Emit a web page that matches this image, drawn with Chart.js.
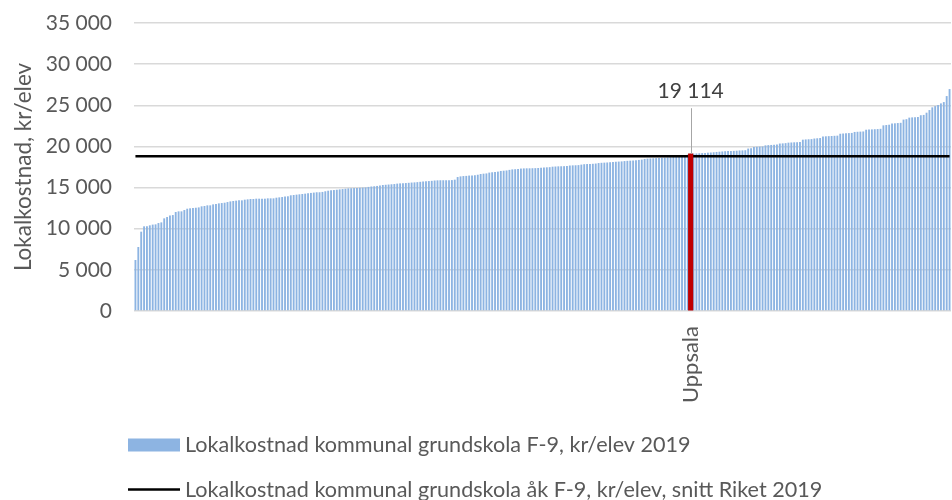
<!DOCTYPE html>
<html><head><meta charset="utf-8">
<script src="https://cdn.jsdelivr.net/npm/chart.js@4.4.1/dist/chart.umd.min.js"></script>
<style>html,body{margin:0;padding:0;background:#fff}#wrap{width:952px;height:500px;position:relative}</style>
</head><body><div id="wrap"><canvas id="c" width="952" height="500"></canvas></div>
<script>
// Lokalkostnad per elev, kommuner sorterade stigande (kr/elev 2019)
const kostnad = [
  6200, 7780, 9640, 10290, 10290, 10410, 10500, 10530, 10690, 10770,
  11260, 11420, 11620, 11660, 12030, 12110, 12110, 12270, 12430, 12480,
  12510, 12550, 12590, 12720, 12760, 12840, 12840, 12960, 13000, 13080,
  13120, 13160, 13240, 13320, 13370, 13410, 13450, 13450, 13530, 13570,
  13610, 13610, 13650, 13650, 13650, 13650, 13690, 13690, 13690, 13770,
  13810, 13850, 13900, 13940, 14060, 14100, 14140, 14180, 14220, 14260,
  14300, 14350, 14390, 14430, 14430, 14470, 14550, 14620,
  14660, 14700, 14740, 14780, 14820, 14860, 14900, 14920, 14940, 14960,
  14980, 15000, 15020, 15080, 15130, 15160, 15200, 15260, 15310, 15340,
  15370, 15400, 15430, 15480, 15510, 15530, 15550, 15580, 15610, 15630,
  15660, 15700, 15740, 15770, 15790, 15820, 15860, 15880, 15890, 15890,
  15890, 15900, 15910, 15960, 16280, 16360, 16400, 16420, 16460, 16480,
  16500, 16560, 16650, 16690, 16720, 16820, 16860, 16880, 16940, 17020,
  17050, 17080, 17150, 17210, 17230, 17260, 17310, 17330, 17340,
  17340, 17350, 17360, 17380, 17420, 17450, 17460, 17480, 17540, 17560,
  17580, 17590, 17600, 17620, 17680, 17700, 17710, 17730, 17790, 17840,
  17860, 17870, 17890, 17920, 17980, 18010, 18030, 18050, 18080, 18120,
  18140, 18160, 18180, 18220, 18250, 18270, 18290, 18310, 18360, 18400,
  18480, 18520, 18540, 18560, 18580, 18600, 18620, 18640, 18660, 18690,
  18720, 18760, 18880, 18920, 18960, 19000, 19114, 19130, 19150, 19170,
  19190, 19210, 19240, 19260, 19290, 19330, 19360, 19390, 19420,
  19430, 19440, 19460, 19480, 19510, 19520, 19540, 19740, 19780, 19940,
  19960, 19980, 20000, 20130, 20160, 20180, 20200, 20220, 20350, 20370,
  20400, 20460, 20480, 20500, 20510, 20530, 20820, 20850, 20870, 20890,
  20960, 20990, 21020, 21200, 21230, 21250, 21270, 21290, 21310, 21540,
  21570, 21600, 21620, 21640, 21760, 21780, 21800, 21820, 22030, 22050,
  22070, 22090, 22110, 22140, 22560, 22600, 22640, 22780, 22810, 22840,
  22870, 23260, 23310, 23500, 23530, 23550, 23580, 23790, 23830, 24100,
  24420, 24750, 24900, 25030, 25230, 25390, 26120, 26970
];
const uppsalaIndex = 193;               // Uppsala = 19 114
const rikssnitt = 18800;                // snitt Riket
const kategorier = kostnad.map((_, i) => i === uppsalaIndex ? 'Uppsala' : '');
const snittSerie = kostnad.map(() => rikssnitt);
const uppsalaSerie = kostnad.map((v, i) => i === uppsalaIndex ? v : null);
const yMin = 0, yMax = 35000, yStep = 5000;
const serieNamn = 'Lokalkostnad kommunal grundskola F-9, kr/elev 2019';
const snittNamn = 'Lokalkostnad kommunal grundskola åk F-9, kr/elev, snitt Riket 2019';
const yTitel = 'Lokalkostnad, kr/elev';

const BLUE = '#8db4e2', RED = '#c00000', TXT = '#595959', FONT = 'Lato';
const fmt = n => String(n).replace(/\B(?=(\d{3})+(?!\d))/g, ' ');

const uppsalaLabel = {
  id: 'uppsalaLabel',
  afterDatasetsDraw(chart) {
    const bar = chart.getDatasetMeta(2).data[uppsalaIndex];
    if (!bar) return;
    const {ctx} = chart;
    const x = bar.x, yTop = bar.y;
    ctx.save();
    ctx.strokeStyle = '#a6a6a6'; ctx.lineWidth = 1;
    ctx.beginPath();
    ctx.moveTo(Math.round(x) + 0.5, yTop - 45.5);
    ctx.lineTo(Math.round(x) + 0.5, yTop);
    ctx.stroke();
    ctx.font = '21px ' + FONT; ctx.fillStyle = '#404040';
    ctx.textAlign = 'center'; ctx.textBaseline = 'alphabetic';
    ctx.fillText(fmt(chart.data.datasets[2].data[uppsalaIndex]), x, yTop - 55.5);
    ctx.restore();
  }
};

const customLegend = {
  id: 'customLegend',
  afterDraw(chart) {
    const {ctx} = chart;
    const ds = chart.data.datasets;
    ctx.save();
    ctx.font = '21.6px ' + FONT;
    ctx.textAlign = 'left'; ctx.textBaseline = 'alphabetic';
    ctx.fillStyle = ds[0].backgroundColor;
    ctx.fillRect(128, 438.5, 52, 13);
    ctx.fillStyle = TXT;
    ctx.fillText(ds[0].label, 185, 451.5);
    ctx.strokeStyle = ds[1].borderColor; ctx.lineWidth = 2.5;
    ctx.beginPath(); ctx.moveTo(128, 489.5); ctx.lineTo(180, 489.5); ctx.stroke();
    ctx.fillText(ds[1].label, 185, 497);
    ctx.restore();
  }
};

new Chart(document.getElementById('c'), {
  type: 'bar',
  data: {
    labels: kategorier,
    datasets: [
      { label: serieNamn, data: kostnad, backgroundColor: BLUE, borderWidth: 0,
        barPercentage: 0.65, categoryPercentage: 1, order: 3 },
      { type: 'line', label: snittNamn, data: snittSerie, borderColor: '#000000',
        borderWidth: 2.5, pointRadius: 0, fill: false, order: 2 },
      { label: 'Uppsala', data: uppsalaSerie, backgroundColor: RED, borderWidth: 0,
        grouped: false, barThickness: 4.5, order: 1 }
    ]
  },
  options: {
    responsive: false, animation: false,
    layout: { padding: { left: 0, right: 1, top: 23, bottom: 89 } },
    plugins: { legend: { display: false }, tooltip: { enabled: false } },
    scales: {
      x: {
        grid: { display: false, drawTicks: false },
        border: { display: false },
        ticks: { autoSkip: false, minRotation: 90, maxRotation: 90, padding: 15,
                 color: TXT, font: { family: FONT, size: 22 } },
        afterFit(s) { s.height = 100; s.paddingLeft = 0; s.paddingRight = 0; }
      },
      y: {
        min: yMin, max: yMax,
        grid: { color: '#d9d9d9', lineWidth: 1.5, drawTicks: false },
        border: { display: false },
        ticks: { stepSize: yStep, padding: 22, color: TXT, font: { family: FONT, size: 21 },
                 callback: v => fmt(v) },
        title: { display: true, text: yTitel, color: TXT, font: { family: FONT, size: 22.5 },
                 padding: { top: 10, bottom: 0 } },
        afterFit(s) { s.width = 134; s.paddingTop = 0; s.paddingBottom = 0; }
      }
    }
  },
  plugins: [uppsalaLabel, customLegend]
});
</script>
</body></html>
